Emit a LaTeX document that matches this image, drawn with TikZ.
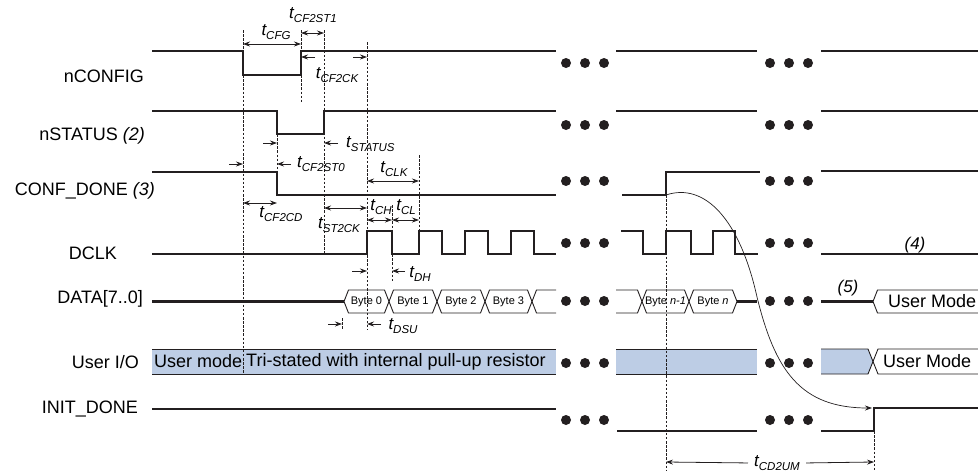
\documentclass[tikz,border=0pt]{standalone}
\usepackage{fontspec}
\setmainfont{Liberation Sans}
\usetikzlibrary{arrows.meta}
\definecolor{inkgray}{RGB}{35,31,32}
\definecolor{iofill}{RGB}{189,205,229}
\tikzset{
  sig/.style     ={draw=inkgray, line width=1.1pt},
  bus/.style     ={draw=inkgray, line width=0.9pt},
  fatbus/.style  ={draw=inkgray, line width=3.4pt},
  guide/.style   ={draw=inkgray, line width=0.8pt, dash pattern=on 2.5pt off 1.6pt},
  dimboth/.style ={{Stealth[length=7pt,width=5pt]}-{Stealth[length=7pt,width=5pt]}, draw=inkgray, line width=0.8pt},
  dimto/.style   ={-{Stealth[length=7pt,width=5pt]}, draw=inkgray, line width=0.8pt},
  lbl/.style     ={font=\fontsize{18}{19}\selectfont, anchor=east, inner sep=0pt},
  tlbl/.style    ={font=\fontsize{17}{18}\selectfont\itshape, inner sep=0pt},
  bytelbl/.style ={font=\fontsize{11}{12}\selectfont, inner sep=0pt},
  iolbl/.style   ={font=\fontsize{18}{19}\selectfont, anchor=west, inner sep=0pt},
  dot/.style     ={circle, fill=inkgray, minimum size=10pt, inner sep=0pt},
}
\newcommand{\tsym}[1]{t\raisebox{-0.4ex}{\fontsize{11.5}{12}\selectfont #1}}
% one data cell of the bus, from #1 to #2
\newcommand{\bytecell}[3]{%
  \draw[bus] (#1,301.5) -- (#1+4.5,290) -- (#2-4.5,290) -- (#2,301.5)
    -- (#2-4.5,313) -- (#1+4.5,313) -- cycle;
  \node[bytelbl] at ({(#1+#2)/2},301.5) {#3};}

\begin{document}
\begin{tikzpicture}[x=1pt, y=-1pt]
\useasboundingbox (0,0) rectangle (978,471);

% signal names
\node[lbl] (nconfig) at (144,76)  {nCONFIG};
\node[lbl] (nstatus) at (145,136) {nSTATUS \textit{(2)}};
\node[lbl] (confdone) at (155,191) {CONF\_DONE \textit{(3)}};
\node[lbl] (dclk)    at (117,253) {DCLK};
\node[lbl] (data)    at (143,299) {DATA[7..0]};
\node[lbl] (userio)  at (139,362) {User I/O};
\node[lbl] (initdone) at (138,409) {INIT\_DONE};

% user I/O bars
\fill[iofill] (152,349) rectangle (556,374);
\fill[iofill] (616,349) rectangle (757,374);
\fill[iofill] (821,349) -- (868,349) -- (873,361.5) -- (868,374) -- (821,374) -- cycle;
\draw[bus] (152,349) -- (556,349) (152,374) -- (556,374);
\draw[bus] (616,349) -- (757,349) (616,374) -- (757,374);
\draw[bus] (821,349) -- (868,349) -- (873,361.5) -- (868,374) -- (821,374);
\draw[bus] (978,349) -- (878,349) -- (873,361.5) -- (878,374) -- (978,374);
\node[iolbl] (umode) at (154,361.5) {User mode};
\node[iolbl] (tristate) at (246,361.5) {Tri-stated with internal pull-up resistor};
\node[iolbl] (umodeio) at (883,361.5) {User Mode};

% guide lines
\draw[guide] (243,30) -- (243,374);
\draw[guide] (301,30) -- (301,103);
\draw[guide] (324,30) -- (324,254);
\draw[guide] (367,42) -- (367,330);
\draw[guide] (277,134) -- (277,172);
\draw[guide] (392,205) -- (392,282);
\draw[guide] (419,155) -- (419,254);
\draw[guide] (342,318) -- (342,330);
\draw[guide] (666,195) -- (666,471);
\draw[guide] (874,431) -- (874,471);

% waveforms
\draw[sig] (152,51) -- (243,51) -- (243,75) -- (301,75) -- (301,51) -- (556,51);
\draw[sig] (616,51) -- (757,51) (821,51) -- (978,51);
\draw[sig] (152,111) -- (277,111) -- (277,134) -- (324,134) -- (324,111) -- (556,111);
\draw[sig] (616,111) -- (757,111) (821,111) -- (978,111);
\draw[sig] (152,172) -- (277,172) -- (277,195) -- (556,195);
\draw[sig] (622,195) -- (666,195) -- (666,172) -- (760,172) (821,171) -- (978,171);
\draw[sig] (152,254) -- (367,254) -- (367,231) -- (392,231) -- (392,254)
  -- (419,254) -- (419,231) -- (442,231) -- (442,254) -- (465,254) -- (465,231)
  -- (488,231) -- (488,254) -- (511,254) -- (511,231) -- (534,231) -- (534,254) -- (556,254);
\draw[sig] (621,231) -- (643,231) -- (643,254) -- (666,254) -- (666,231) -- (691,231)
  -- (691,254) -- (713,254) -- (713,231) -- (735,231) -- (735,254) -- (758,254);
\draw[sig] (821,254) -- (978,254);
\draw[sig] (152,409) -- (556,409) (617,431) -- (757,431);
\draw[sig] (821,431) -- (874,431) -- (874,408) -- (978,408);

% data bus
\draw[fatbus] (152,301.5) -- (344,301.5);
\bytecell{344}{389}{Byte 0}
\bytecell{389}{437}{Byte 1}
\bytecell{437}{485}{Byte 2}
\bytecell{485}{532}{Byte 3}
\draw[bus] (556,290) -- (536.5,290) -- (532,301.5) -- (536.5,313) -- (556,313);
\draw[bus] (616,290) -- (637.5,290) -- (642,301.5) -- (637.5,313) -- (616,313);
\bytecell{642}{689}{Byte \textit{n-1}}
\bytecell{689}{737}{Byte \textit{n}}
\draw[fatbus] (737,301.5) -- (757,301.5) (821,301.5) -- (873,301.5);
\draw[bus] (978,290) -- (877.5,290) -- (873,301.5) -- (877.5,313) -- (978,313);
\node[iolbl] (umodedata) at (888,301.5) {User Mode};
\node[tlbl] (note4) at (915,245) {(4)};
\node[tlbl] (note5) at (848,288) {(5)};

% ellipses
\foreach \yy in {63,125,181,243,301,363,420}{
  \foreach \xx in {566,585,604,770,789,808}
    \node[dot] at (\xx,\yy) {};
}

% timing parameters
\draw[dimboth] (243,44) -- (301,44);
\node[tlbl] (tcfg) at (276,32) {\tsym{CFG}};
\draw[dimboth] (301,33) -- (324,33);
\node[tlbl] (tcf2st1) at (313,15) {\tsym{CF2ST1}};
\draw[dimto] (315,57) -- (301,57);
\draw[dimto] (353,57) -- (367,57);
\node[tlbl] (tcf2ck) at (337,75) {\tsym{CF2CK}};
\draw[dimto] (263,143) -- (277,143);
\draw[dimto] (338,143) -- (324,143);
\node[tlbl, anchor=west] (tstatus) at (346,144) {\tsym{STATUS}};
\draw[dimto] (229,164) -- (243,164);
\draw[dimto] (291,164) -- (277,164);
\node[tlbl, anchor=west] (tcf2st0) at (297,164) {\tsym{CF2ST0}};
\draw[dimboth] (367,181) -- (419,181);
\node[tlbl] (tclk) at (394,169) {\tsym{CLK}};
\draw[dimboth] (243,203) -- (277,203);
\node[tlbl] (tcf2cd) at (281,214) {\tsym{CF2CD}};
\draw[dimboth] (324,208) -- (367,208);
\node[tlbl] (tst2ck) at (339,225) {\tsym{ST2CK}};
\draw[dimboth] (367,220) -- (392,220);
\draw[dimboth] (392,220) -- (419,220);
\node[tlbl] (tch) at (381,207) {\tsym{CH}};
\node[tlbl] (tcl) at (406,207) {\tsym{CL}};
\draw[dimto] (352,271) -- (367,271);
\draw[dimto] (405,271) -- (392,271);
\node[tlbl] (tdh) at (420,274) {\tsym{DH}};
\draw[dimto] (328,324) -- (342,324);
\draw[dimto] (381,324) -- (367,324);
\node[tlbl] (tdsu) at (403,326) {\tsym{DSU}};
\node[tlbl, anchor=south] (tcd2um) at (777,470.5) {\tsym{CD2UM}};
\draw[dimto] (tcd2um.west) ++(-6,0) -- (666,462);
\draw[dimto] (tcd2um.east) ++(6,0) -- (874,462);

% CONF_DONE to INIT_DONE
\coordinate (cdrise) at (666,195);
\coordinate (inithigh) at (872,408);
\draw[dimto, line width=0.7pt] (cdrise) .. controls (705,182) and (740,220) .. (757,297)
  .. controls (775,370) and (800,408) .. (inithigh);
\end{tikzpicture}
\end{document}
